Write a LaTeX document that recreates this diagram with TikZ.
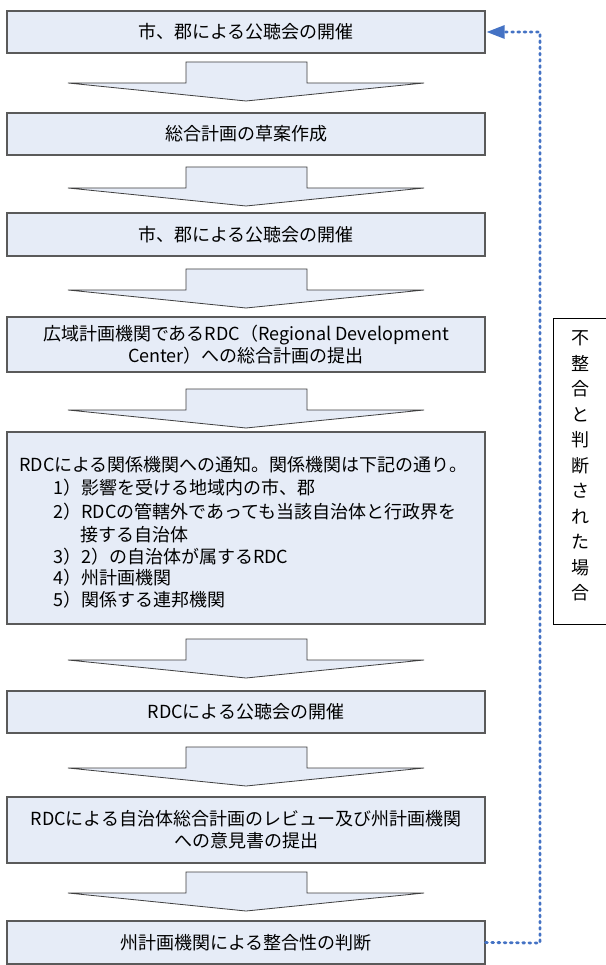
\documentclass[tikz,border=0pt]{standalone}
\usepackage{fontspec}
\setmainfont{Noto Sans CJK JP}
\usetikzlibrary{arrows.meta}
\definecolor{boxfill}{HTML}{E6ECF7}
\definecolor{boxline}{HTML}{5A5A5A}
\definecolor{arrline}{HTML}{3F3F3F}
\definecolor{fbblue}{HTML}{4472C4}
\newcommand\flowarrow[1]{%
  \draw[blockarrow] (186,#1-21) -- (307,#1-21) -- (307,#1) -- (424,#1) -- (246,#1+18) -- (68,#1) -- (186,#1) -- cycle;}
\begin{document}
\begin{tikzpicture}[x=1pt,y=-1pt,
  stepbox/.style={draw=boxline, fill=boxfill, line width=1.1pt, minimum width=478pt,
    inner sep=0pt, align=center, font=\fontsize{18}{22}\selectfont},
  blockarrow/.style={draw=arrline, fill=boxfill, line width=0.8pt, line join=miter},
  itemtext/.style={anchor=west, inner sep=0pt, font=\fontsize{18}{22}\selectfont},
  fbline/.style={draw=fbblue, line width=2.8pt, dash pattern=on 1.8pt off 4.4pt, line cap=round},
  sidebox/.style={draw=black, line width=0.8pt, fill=white, inner sep=0pt, align=center,
    font=\fontsize{18}{25.5}\selectfont}]
\useasboundingbox (0,0) rectangle (605,965);
\fill[white] (0,0) rectangle (605,965);

\node[stepbox, minimum height=42pt] (b1) at (246,32) {市、郡による公聴会の開催};
\node[stepbox, minimum height=42pt] (b2) at (246,134) {総合計画の草案作成};
\node[stepbox, minimum height=43pt] (b3) at (246,234.5) {市、郡による公聴会の開催};
\node[stepbox, minimum height=55pt] (b4) at (246,344.5) {広域計画機関であるRDC（Regional Development\\Center）への総合計画の提出};
\node[stepbox, minimum height=192pt] (b5) at (246,528) {};
\node[itemtext] (t1) at (19,465) {RDCによる関係機関への通知。関係機関は下記の通り。};
\node[itemtext] (t2) at (53,488) {1）影響を受ける地域内の市、郡};
\node[itemtext] (t3) at (53,512) {2）RDCの管轄外であっても当該自治体と行政界を};
\node[itemtext] (t4) at (80,535) {接する自治体};
\node[itemtext] (t5) at (53,557) {3）2）の自治体が属するRDC};
\node[itemtext] (t6) at (53,578) {4）州計画機関};
\node[itemtext] (t7) at (53,600) {5）関係する連邦機関};
\node[stepbox, minimum height=42pt] (b6) at (246,712) {RDCによる公聴会の開催};
\node[stepbox, minimum height=66pt] (b7) at (246,830) {RDCによる自治体総合計画のレビュー及び州計画機関\\への意見書の提出};
\node[stepbox, minimum height=43pt] (b8) at (246,942.5) {州計画機関による整合性の判断};

\flowarrow{83}
\flowarrow{188}
\flowarrow{290}
\flowarrow{410}
\flowarrow{660}
\flowarrow{768}
\flowarrow{893}

\node[sidebox, minimum width=60pt, minimum height=306pt] (side) at (583,471) {};
\node[inner sep=0pt, align=center, font=\fontsize{18}{25.5}\selectfont] (sidetext) at (580,466)
  {不\\整\\合\\と\\判\\断\\さ\\れ\\た\\場\\合};

\coordinate (fb1) at (540,943);
\coordinate (fb2) at (540,32);
\draw[fbline, -{Triangle[length=18pt,width=13pt]}, shorten >=1pt] (b8.east) -- (fb1) -- (fb2) -- (b1.east);
\end{tikzpicture}
\end{document}
